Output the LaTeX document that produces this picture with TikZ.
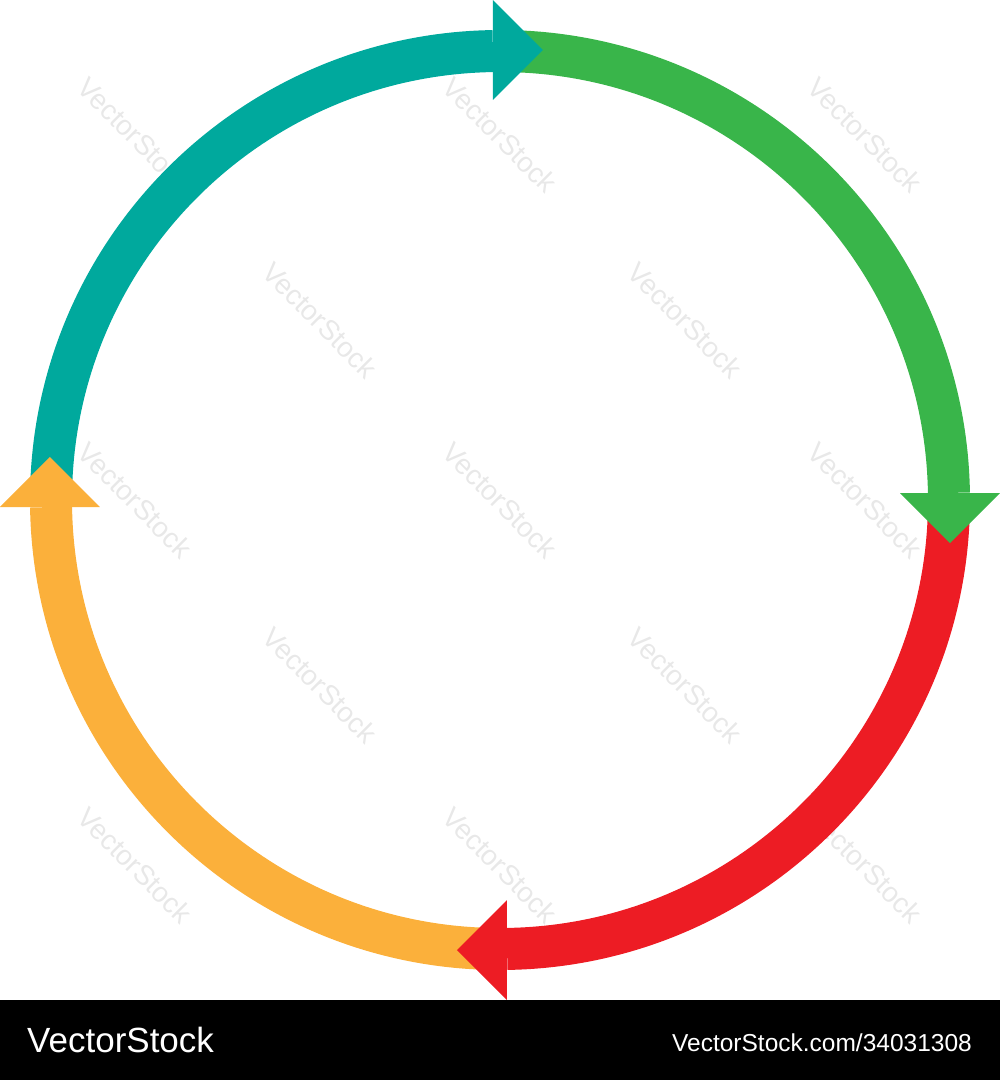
\documentclass[tikz,border=0pt]{standalone}
\usepackage{fontspec}
\setmainfont{Liberation Sans}
\definecolor{cteal}{RGB}{0,169,157}
\definecolor{cgreen}{RGB}{57,181,74}
\definecolor{cred}{RGB}{237,28,36}
\definecolor{corange}{RGB}{251,176,59}
\begin{document}
\begin{tikzpicture}[x=1pt,y=1pt,
  band/.style={line width=42pt, line cap=butt},
  head/.style={draw=none},
  wmark/.style={text=black!9, rotate=-45, font=\fontsize{28}{30}\selectfont, inner sep=0pt},
  brand/.style={text=white, anchor=base west, inner sep=0pt}]
\useasboundingbox (-500,-580) rectangle (500,500);
% watermarks
\foreach \px/\py [count=\i] in {135/135,500/135,865/135,320/320,685/320,135/500,500/500,865/500,320/685,685/685,135/865,500/865,865/865}{
  \node[wmark] (wm\i) at (\px-500,500-\py) {VectorStock};
}
% bands
\draw[band, cteal]   (180:449) arc[start angle=180, end angle=90.9, radius=449];
\draw[band, cgreen]  (90:449)  arc[start angle=90, end angle=0.9, radius=449];
\draw[band, cred]    (0:449)   arc[start angle=0, end angle=-89.1, radius=449];
\draw[band, corange] (-90:449) arc[start angle=-90, end angle=-179.1, radius=449];
% arrow heads
\fill[head, cteal]   (-7,500) -- (43,450) -- (-7,400) -- cycle;
\fill[head, cgreen]  (400,7) -- (450,-43) -- (500,7) -- cycle;
\fill[head, cred]    (7,-400) -- (-43,-450) -- (7,-500) -- cycle;
\fill[head, corange] (-500,-7) -- (-450,43) -- (-400,-7) -- cycle;
% bottom bar
\fill[black] (-500,-580) rectangle (500,-500);
\node[brand, font=\fontsize{35}{40}\selectfont] (logo) at (-473,-552) {VectorStock};
\node[brand, anchor=base east, font=\fontsize{24.5}{28}\selectfont] (ref) at (472,-551) {VectorStock.com/34031308};
\end{tikzpicture}
\end{document}
